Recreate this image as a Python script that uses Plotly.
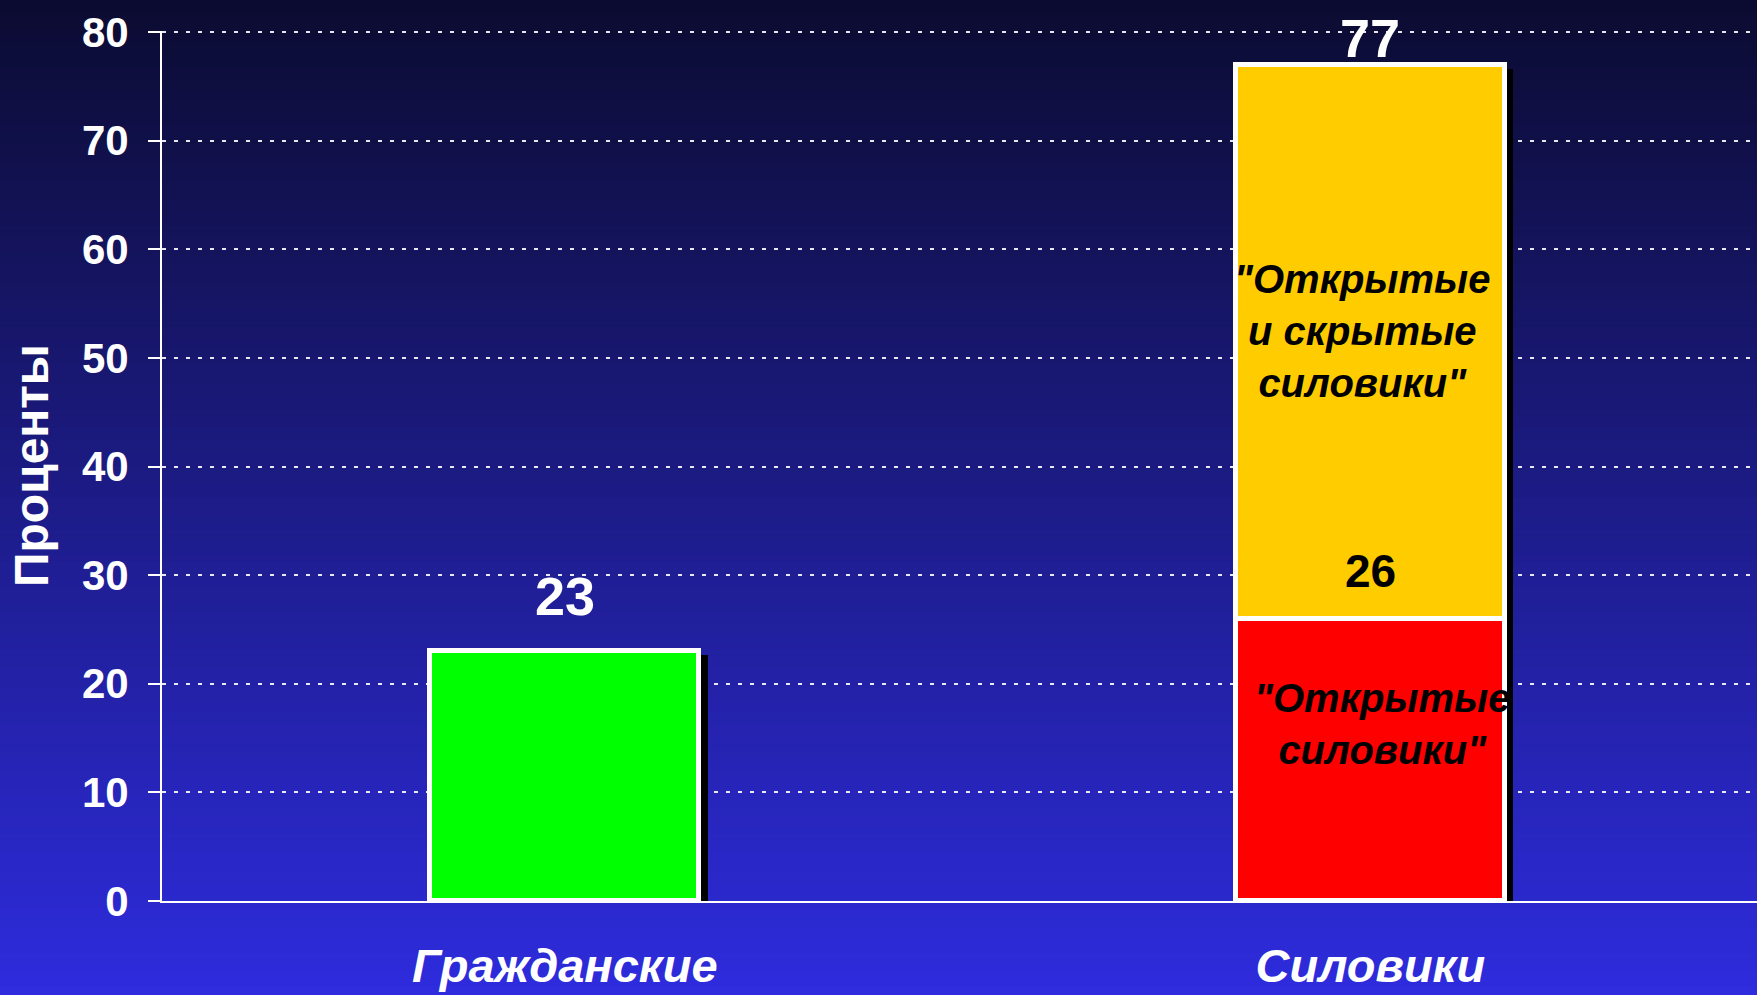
import plotly.graph_objects as go

# ---- data ----
categories = ["Гражданские", "Силовики"]
civil_values = [23, 0]
open_values = [0, 26]          # "Открытые силовики"
hidden_values = [0, 51]        # added on top: "Открытые и скрытые силовики"
totals = [23, 77]
y_ticks = [0, 10, 20, 30, 40, 50, 60, 70, 80]
axis_title = "Проценты"
open_label = "\"Открытые<br>силовики\""
all_label = "\"Открытые<br>и скрытые<br>силовики\""

FONT = "Liberation Sans, Arial, sans-serif"
W, H = 1757, 995
ML, MR, MT, MB = 162, 0, 31, 94
Y_MAX = 80.1
plot_w = W - ML - MR
plot_h = H - MT - MB
x_range = [-0.5, 1.48]
px_per_x = plot_w / (x_range[1] - x_range[0])
px_per_y = plot_h / Y_MAX

bar_w = 269 / px_per_x
shadow_dx = 8.5 / px_per_x
shadow_dy = 4 / px_per_y

fig = go.Figure()

# shadow behind bars
fig.add_trace(go.Bar(
    x=categories, y=[t - shadow_dy for t in totals],
    width=bar_w, offset=-bar_w / 2 + shadow_dx,
    marker=dict(color="black", line=dict(width=0)),
    hoverinfo="skip", showlegend=False))

fig.add_trace(go.Bar(
    x=categories, y=civil_values, width=bar_w, offset=-bar_w / 2,
    marker=dict(color="#00ff00", line=dict(color="white", width=5)),
    showlegend=False))
fig.add_trace(go.Bar(
    x=categories, y=open_values, width=bar_w, offset=-bar_w / 2,
    marker=dict(color="#ff0000", line=dict(color="white", width=5)),
    showlegend=False))
fig.add_trace(go.Bar(
    x=categories, y=hidden_values, base=open_values, width=bar_w, offset=-bar_w / 2,
    marker=dict(color="#ffcc00", line=dict(color="white", width=5)),
    showlegend=False))

# background gradient stripes
shapes = []
N = 160
top = (11, 11, 48)
bot = (46, 44, 222)
y_lo = -MB / plot_h - 0.01
y_hi = 1 + MT / plot_h + 0.01
for i in range(N):
    f = i / (N - 1)
    c = tuple(round(top[k] + (bot[k] - top[k]) * f) for k in range(3))
    y1 = y_hi - (y_hi - y_lo) * i / N
    y0 = y_hi - (y_hi - y_lo) * (i + 1) / N - 0.002
    shapes.append(dict(type="rect", xref="paper", yref="paper",
                       x0=-0.2, x1=1.2, y0=y0, y1=y1,
                       fillcolor="rgb(%d,%d,%d)" % c, line=dict(width=0),
                       layer="below"))

annotations = [
    dict(x=categories[0], y=totals[0], text=str(totals[0]), showarrow=False,
         yanchor="middle", yshift=55,
         font=dict(family=FONT, size=54, color="white", weight="bold")),
    dict(x=categories[1], y=totals[1], text=str(totals[1]), showarrow=False,
         yanchor="middle", yshift=27,
         font=dict(family=FONT, size=54, color="white", weight="bold")),
    dict(x=categories[1], y=open_values[1], text=str(open_values[1]), showarrow=False,
         yanchor="middle", yshift=48,
         font=dict(family=FONT, size=46, color="black", weight="bold")),
    dict(x=categories[1], y=(open_values[1] + totals[1]) / 2, text=all_label,
         showarrow=False, yanchor="middle", yshift=11, xshift=-8,
         font=dict(family=FONT, size=40, color="black", weight="bold", style="italic")),
    dict(x=categories[1], y=open_values[1] / 2, text=open_label,
         showarrow=False, yanchor="middle", yshift=36, xshift=12,
         font=dict(family=FONT, size=40, color="black", weight="bold", style="italic")),
    dict(xref="paper", yref="paper", x=(31 - ML) / plot_w, y=0.5, text=axis_title,
         textangle=-90, showarrow=False, xanchor="center", yanchor="middle",
         font=dict(family=FONT, size=48, color="white", weight="bold")),
]

fig.update_layout(
    width=W, height=H,
    margin=dict(l=ML, r=MR, t=MT, b=MB, pad=0, autoexpand=False),
    paper_bgcolor="#1a1a80",
    plot_bgcolor="rgba(0,0,0,0)",
    barmode="overlay",
    bargap=0,
    shapes=shapes,
    annotations=annotations,
    showlegend=False,
)
fig.update_xaxes(
    range=x_range, showgrid=False, zeroline=False, automargin=False,
    showline=True, linecolor="white", linewidth=2,
    ticks="", ticklabelstandoff=23,
    tickfont=dict(family=FONT, size=47, color="white", weight="bold", style="italic"),
    fixedrange=True,
)
fig.update_yaxes(
    range=[0, Y_MAX], tickvals=y_ticks, showgrid=True, automargin=False,
    gridcolor="rgba(255,255,255,0.9)", gridwidth=1.5, griddash="4px,8px",
    zeroline=False, showline=True, linecolor="white", linewidth=2,
    ticks="outside", ticklen=12, tickwidth=2, tickcolor="white",
    ticklabelstandoff=11,
    tickfont=dict(family=FONT, size=42, color="white", weight="bold"),
    fixedrange=True,
)

fig.write_html(
    "out.html",
    config={"displayModeBar": False},
    post_script="document.body.style.margin='0';document.body.style.overflow='hidden';",
)
